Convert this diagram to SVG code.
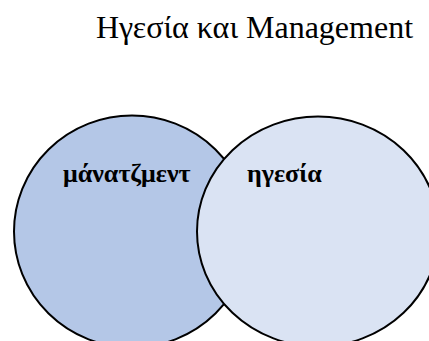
<svg xmlns="http://www.w3.org/2000/svg" width="429" height="341" viewBox="0 0 429 341">
<style>
.c{stroke:#000;stroke-width:2}
.t{font-family:"Liberation Serif","DejaVu Serif",serif;fill:#000}
.lbl{font-size:26px;font-weight:bold}
</style>
<rect width="429" height="341" fill="#fff"/>
<text class="t" x="96" y="38" font-size="32">Ηγεσία και Management</text>
<g id="management">
<ellipse class="c" cx="132" cy="231.5" rx="118" ry="116" fill="#b4c7e7"/>
<text class="t lbl" x="63" y="182">μάνατζμεντ</text>
</g>
<g id="leadership">
<ellipse class="c" cx="318" cy="231.5" rx="121" ry="115" fill="#dae3f3"/>
<text class="t lbl" x="247" y="182">ηγεσία</text>
</g>
<g id="connectors"/>
</svg>
